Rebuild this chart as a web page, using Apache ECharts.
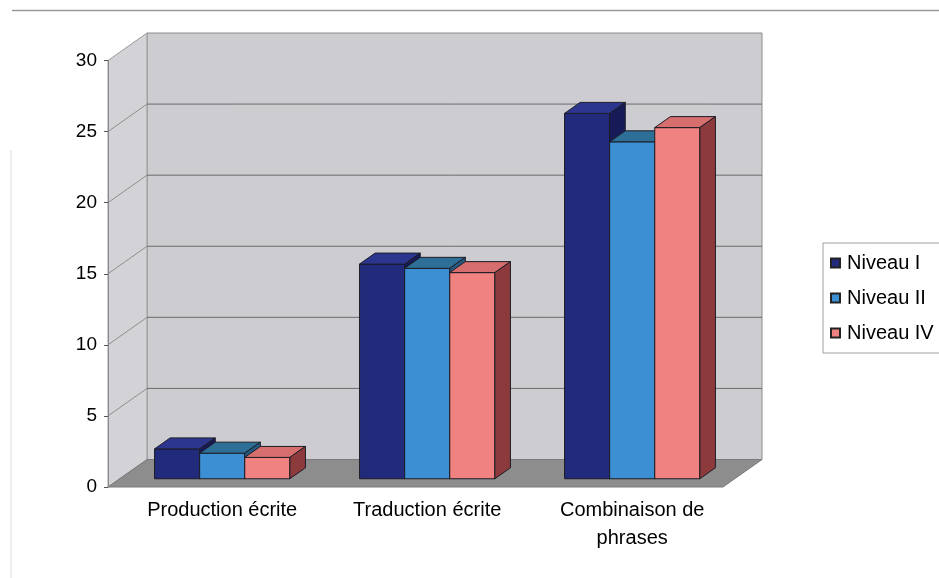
<!DOCTYPE html>
<html>
<head>
<meta charset="utf-8">
<script src="https://cdn.jsdelivr.net/npm/echarts@6/dist/echarts.min.js"></script>
<style>
html,body{margin:0;padding:0;background:#fff;}
#chart{width:939px;height:578px;}
</style>
</head>
<body>
<div id="chart"></div>
<script>
// ---- data ----
const categories = ['Production écrite', 'Traduction écrite', 'Combinaison de\nphrases'];
const seriesNames = ['Niveau I', 'Niveau II', 'Niveau IV'];
const niveauI = [2.1, 15.1, 25.7];
const niveauII = [1.8, 14.8, 23.7];
const niveauIV = [1.5, 14.5, 24.7];
const yTicks = [0, 5, 10, 15, 20, 25, 30];

// ---- style / geometry ----
const FONT = '"Liberation Sans", Arial, sans-serif';
const DX = 39, DY = -27.5;         // full depth offset of the 3D box
const BAR_FRONT = 0.3, BAR_DEPTH = 0.4;
const GL = 108, GT = 60.5, GW = 615, GH = 426.5;
const palettes = [
  {front: '#222a7c', top: '#2c368f', side: '#161b58'},
  {front: '#3b8fd2', top: '#2e6f97', side: '#245a82'},
  {front: '#f08282', top: '#d66e6e', side: '#8c3a3c'}
];

const chart = echarts.init(document.getElementById('chart'), null, {renderer: 'canvas'});

function wallsRender(params, api) {
  const cs = params.coordSys;
  const x0 = cs.x, x1 = cs.x + cs.width;
  const yb = api.coord([0, yTicks[0]])[1];
  const yt = api.coord([0, yTicks[yTicks.length - 1]])[1];
  const children = [];
  children.push({type: 'polygon', shape: {points: [[x0 + DX, yt + DY], [x1 + DX, yt + DY], [x1 + DX, yb + DY], [x0 + DX, yb + DY]]},
    style: {fill: '#cdcdd1', stroke: '#8c8c8c', lineWidth: 1}});
  children.push({type: 'polygon', shape: {points: [[x0, yt], [x0 + DX, yt + DY], [x0 + DX, yb + DY], [x0, yb]]},
    style: {fill: '#d3d3d7', stroke: '#9a9a9a', lineWidth: 1}});
  children.push({type: 'polygon', shape: {points: [[x0, yb], [x0 + DX, yb + DY], [x1 + DX, yb + DY], [x1, yb]]},
    style: {fill: '#8d8d8d', stroke: '#7a7a7a', lineWidth: 1}});
  for (let i = 1; i < yTicks.length - 1; i++) {
    const y = api.coord([0, yTicks[i]])[1];
    children.push({type: 'line', shape: {x1: x0 + DX, y1: y + DY, x2: x1 + DX, y2: y + DY},
      style: {stroke: '#6a6a6a', lineWidth: 1}});
    children.push({type: 'line', shape: {x1: x0, y1: y, x2: x0 + DX, y2: y + DY},
      style: {stroke: '#8e8e8e', lineWidth: 1}});
  }
  return {type: 'group', children: children};
}

function barRender(sIdx) {
  const pal = palettes[sIdx];
  return function (params, api) {
    const cat = api.value(0), val = api.value(1);
    const top = api.coord([cat, val]);
    const base = api.coord([cat, 0]);
    const band = api.size([1, 0])[0];
    const groupW = band * 0.66;
    const bw = groupW / 3;
    const xl = top[0] - groupW / 2 + sIdx * bw;
    const xr = xl + bw;
    const bdx = DX * BAR_DEPTH, bdy = DY * BAR_DEPTH;
    const yt = top[1], yb = base[1];
    const stroke = {stroke: '#1d1d26', lineWidth: 1};
    return {type: 'group', children: [
      {type: 'rect', shape: {x: xl, y: yt, width: bw, height: yb - yt}, style: Object.assign({fill: pal.front}, stroke)},
      {type: 'polygon', shape: {points: [[xl, yt], [xl + bdx, yt + bdy], [xr + bdx, yt + bdy], [xr, yt]]}, style: Object.assign({fill: pal.top}, stroke)},
      {type: 'polygon', shape: {points: [[xr, yt], [xr + bdx, yt + bdy], [xr + bdx, yb + bdy], [xr, yb]]}, style: Object.assign({fill: pal.side}, stroke)}
    ]};
  };
}

const seriesData = [niveauI, niveauII, niveauIV];

const option = {
  animation: false,
  backgroundColor: '#ffffff',
  textStyle: {fontFamily: FONT},
  graphic: [
    {type: 'line', shape: {x1: 12, y1: 10.5, x2: 939, y2: 10.5}, style: {stroke: '#9a9a9a', lineWidth: 1.5}, z: 0},
    {type: 'line', shape: {x1: 11, y1: 150, x2: 11, y2: 578}, style: {stroke: '#dcdcdc', lineWidth: 1}, z: 0}
  ],
  grid: [
    {left: GL, top: GT, width: GW, height: GH},
    {left: GL + DX * BAR_FRONT, top: GT + DY * BAR_FRONT, width: GW, height: GH}
  ],
  xAxis: [
    {type: 'category', gridIndex: 0, data: categories, show: false},
    {type: 'category', gridIndex: 1, data: categories,
      axisLine: {show: false}, axisTick: {show: false},
      axisLabel: {interval: 0, fontSize: 20, color: '#000', margin: 18, lineHeight: 28, fontFamily: FONT}}
  ],
  yAxis: [
    {type: 'value', gridIndex: 0, min: 0, max: 30, interval: 5, z: 5,
      axisLine: {show: true, lineStyle: {color: '#8a8a8a', width: 1}},
      axisTick: {show: true, length: 4, lineStyle: {color: '#555'}},
      splitLine: {show: false},
      axisLabel: {fontSize: 19, color: '#000', margin: 11, fontFamily: FONT}},
    {type: 'value', gridIndex: 1, min: 0, max: 30, interval: 5, show: false, splitLine: {show: false}}
  ],
  legend: {
    orient: 'vertical', left: 823, top: 243,
    data: seriesNames.map(n => ({name: n, icon: 'rect'})),
    itemWidth: 9, itemHeight: 9, itemGap: 13,
    padding: [9, 40, 9, 7],
    borderColor: '#a0a0a0', borderWidth: 1,
    textStyle: {fontSize: 20, lineHeight: 22, color: '#000', fontFamily: FONT, padding: [0, 0, 0, 2]}
  },
  series: [
    {type: 'custom', name: 'walls', xAxisIndex: 0, yAxisIndex: 0, z: 1, silent: true,
      data: [[0, 0]], renderItem: wallsRender}
  ].concat(seriesData.map((arr, i) => ({
    type: 'custom', name: seriesNames[i], xAxisIndex: 1, yAxisIndex: 1, z: 3,
    itemStyle: {color: palettes[i].front, borderColor: '#222', borderWidth: 1},
    encode: {x: 0, y: 1},
    data: arr.map((v, k) => [k, v]),
    renderItem: barRender(i)
  })))
};
chart.setOption(option);
</script>
</body>
</html>
